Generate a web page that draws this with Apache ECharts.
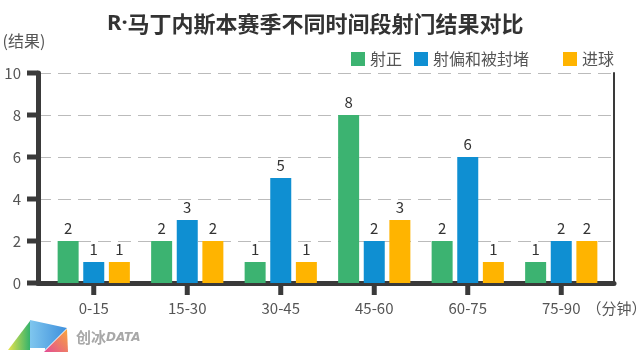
<!DOCTYPE html>
<html>
<head>
<meta charset="utf-8">
<script src="https://cdn.jsdelivr.net/npm/echarts@6/dist/echarts.min.js"></script>
<style>
html,body{margin:0;padding:0;background:#fff;}
#chart{width:640px;height:358px;}
</style>
</head>
<body>
<div id="chart"></div>
<script>
// ---- data ----
const categories = ['0-15', '15-30', '30-45', '45-60', '60-75', '75-90'];
const seriesNames = ['射正', '射偏和被封堵', '进球'];
const shotsOnTarget = [2, 2, 1, 8, 2, 1];
const shotsOffOrBlocked = [1, 3, 5, 2, 6, 2];
const goals = [1, 2, 1, 3, 1, 2];
const yTicks = [0, 2, 4, 6, 8, 10];
const yMin = 0, yMax = 10, yStep = 2;
const titleMain = '马丁内斯本赛季不同时间段射门结果对比';
const titlePrefix = 'R·';
const yName = '(结果)';
const xName = '（分钟）';

// ---- layout / styles ----
const W = 640, H = 358;
const plotGrid = {left: 47, right: 32, top: 73, bottom: 75};
const frameGrid = {left: 38, right: 26, top: 73, bottom: 75};
const FONT = '"Noto Sans CJK SC", "Noto Sans", sans-serif';
const colors = ['#3cb371', '#0f8fd2', '#ffb400'];
const dark = '#3a3a3a';

const chart = echarts.init(document.getElementById('chart'), null, {renderer: 'canvas'});

function barSeries(name, data, color) {
  return {
    name: name, type: 'bar', xAxisIndex: 0, yAxisIndex: 0,
    data: data, barWidth: 21, barGap: '22%',
    itemStyle: {color: color},
    label: {show: true, position: 'top', distance: 5, fontSize: 15, color: '#333', fontFamily: FONT}
  };
}

// Axis tick decorations, derived from the axis layout (band centres / value scale).
function tickGraphics() {
  const out = [];
  const plotW = W - plotGrid.left - plotGrid.right;
  const plotH = H - plotGrid.top - plotGrid.bottom;
  const axisY = H - plotGrid.bottom;
  categories.forEach(function (c, i) {
    const x = plotGrid.left + (i + 0.5) * plotW / categories.length;
    out.push({id: 'xtick' + i, type: 'rect', z: 100, silent: true,
      shape: {x: x - 2.5, y: axisY + 2, width: 5, height: 10}, style: {fill: dark}});
  });
  yTicks.forEach(function (v, i) {
    const y = frameGrid.top + (1 - (v - yMin) / (yMax - yMin)) * plotH;
    out.push({id: 'ytick' + i, type: 'rect', z: 100, silent: true,
      shape: {x: frameGrid.left - 11, y: y - 2.5, width: 11, height: 5}, style: {fill: dark}});
  });
  return out;
}

const legendText = {fontSize: 16, color: '#555', fontFamily: FONT};

const logoGraphics = [
  {
    id: 'logo-a', type: 'polygon', shape: {points: [[8, 350], [30, 321], [30, 350]]},
    style: {fill: new echarts.graphic.LinearGradient(0, 0, 1, 0, [{offset: 0, color: '#e8e34c'}, {offset: 1, color: '#34b36c'}])}
  },
  {
    id: 'logo-b', type: 'polygon', shape: {points: [[30, 320], [67, 328], [45, 350], [45, 348], [30, 348]]},
    style: {fill: new echarts.graphic.LinearGradient(0, 0, 1, 0, [{offset: 0, color: '#7fc6ee'}, {offset: 1, color: '#3d8fdc'}])}
  },
  {
    id: 'logo-c', type: 'polygon', shape: {points: [[44, 352], [67, 329], [68, 352]]},
    style: {fill: new echarts.graphic.LinearGradient(0, 1, 1, 0, [{offset: 0, color: '#e34c96'}, {offset: 1, color: '#f8a83c'}])}
  },
  {
    id: 'logo-t', type: 'text', left: 76, top: 330,
    style: {
      text: '{a|创冰}{b|DATA}',
      rich: {
        a: {fontSize: 15, fontWeight: 'bold', fill: '#a8a8a8', fontFamily: FONT},
        b: {fontSize: 12, fontWeight: 'bold', fontStyle: 'italic', fill: '#a8a8a8', fontFamily: '"DejaVu Sans", sans-serif'}
      }
    }
  }
];

const option = {
  animation: false,
  backgroundColor: '#fff',
  textStyle: {fontFamily: FONT},
  title: {
    text: '{p|' + titlePrefix + '}' + titleMain, left: 102, top: 8,
    textStyle: {
      fontSize: 22, fontWeight: 'bold', color: '#333', fontFamily: FONT,
      rich: {p: {fontSize: 22, fontWeight: 'bold', color: '#333', fontFamily: '"Noto Sans", sans-serif'}}
    }
  },
  legend: [
    {
      left: 346, top: 46, itemWidth: 14, itemHeight: 14, itemGap: 12, icon: 'rect',
      textStyle: legendText, data: [seriesNames[0], seriesNames[1]]
    },
    {
      left: 558, top: 46, itemWidth: 14, itemHeight: 14, itemGap: 12, icon: 'rect',
      textStyle: legendText, data: [seriesNames[2]]
    }
  ],
  grid: [
    Object.assign({outerBoundsMode: 'none', containLabel: false}, plotGrid),
    Object.assign({outerBoundsMode: 'none', containLabel: false}, frameGrid)
  ],
  xAxis: [
    {
      type: 'category', gridIndex: 0, data: categories,
      axisLine: {show: false},
      axisTick: {show: false},
      axisLabel: {margin: 18, fontSize: 15, color: '#555', fontFamily: FONT},
      name: xName, nameLocation: 'end', nameGap: -26,
      nameTextStyle: {fontSize: 15, color: '#555', fontFamily: FONT, verticalAlign: 'top', align: 'left', padding: [18, 0, 0, 0]}
    },
    {
      type: 'value', gridIndex: 1, min: 0, max: 1,
      axisLine: {show: true, lineStyle: {width: 5, color: dark}},
      axisTick: {show: false}, axisLabel: {show: false}, splitLine: {show: false}
    }
  ],
  yAxis: [
    {type: 'value', gridIndex: 0, min: yMin, max: yMax, interval: yStep, show: false},
    {
      type: 'value', gridIndex: 1, min: yMin, max: yMax, interval: yStep,
      axisLine: {show: true, lineStyle: {width: 5, color: dark}},
      axisTick: {show: false},
      axisLabel: {margin: 17, fontSize: 15, color: '#555', fontFamily: FONT},
      splitLine: {show: true, lineStyle: {type: [13, 7], color: '#bbb', width: 1}},
      name: yName, nameLocation: 'end', nameGap: 24,
      nameTextStyle: {fontSize: 16, color: '#555', fontFamily: FONT, align: 'center', padding: [0, 28, 0, 0]}
    },
    {
      type: 'value', gridIndex: 1, position: 'right', min: yMin, max: yMax, interval: yStep,
      axisLine: {show: true, lineStyle: {width: 2, color: dark}},
      axisTick: {show: false}, axisLabel: {show: false}, splitLine: {show: false}
    }
  ],
  series: [
    barSeries(seriesNames[0], shotsOnTarget, colors[0]),
    barSeries(seriesNames[1], shotsOffOrBlocked, colors[1]),
    barSeries(seriesNames[2], goals, colors[2])
  ],
  graphic: logoGraphics.concat(tickGraphics())
};
chart.setOption(option);
</script>
</body>
</html>
